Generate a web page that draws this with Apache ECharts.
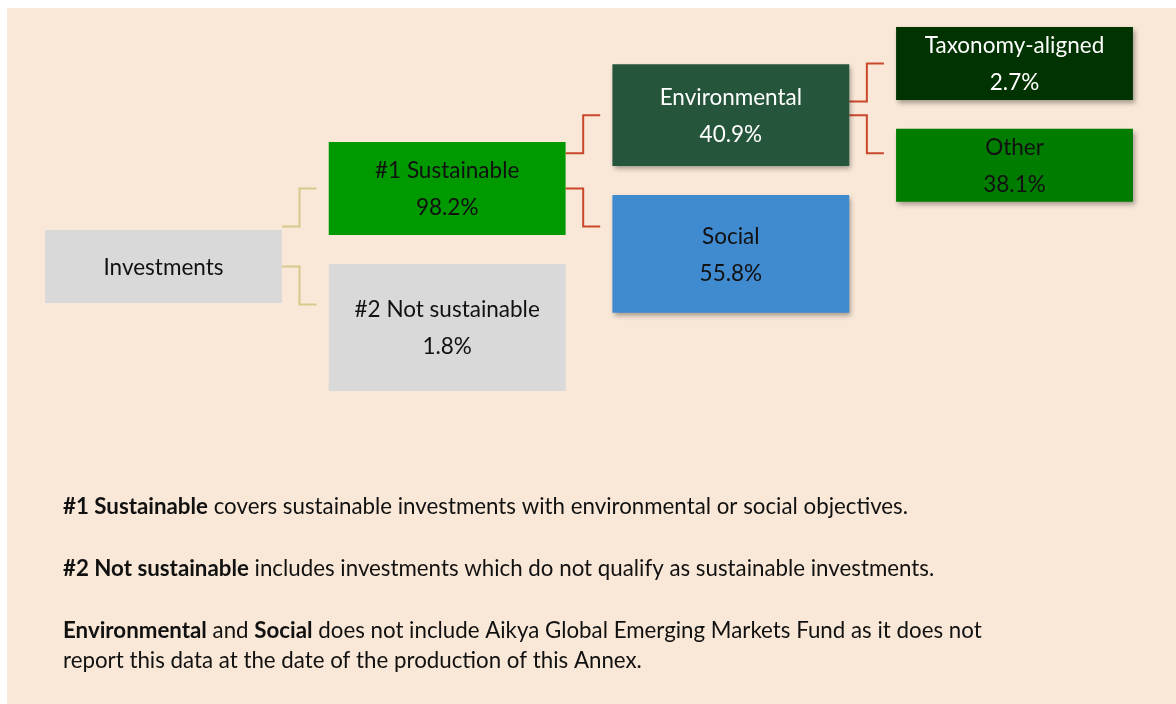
<!DOCTYPE html>
<html lang="en">
<head>
    <meta charset="UTF-8">
    <title>Asset allocation</title>
    <script src="https://cdn.jsdelivr.net/npm/echarts@6/dist/echarts.min.js"></script>
    <style>
        body { margin: 0; background: #ffffff; }
        #chart { width: 1176px; height: 704px; }
    </style>
</head>
<body>
    <div id="chart"></div>
    <script>
        // tree data
        const nodeNames = ['Investments', '#1 Sustainable', '#2 Not sustainable', 'Environmental', 'Social', 'Taxonomy-aligned', 'Other'];
        const nodeValues = [null, 98.2, 1.8, 40.9, 55.8, 2.7, 38.1];
        const nodeLevels = [0, 1, 1, 2, 2, 3, 3];
        const nodeParents = [-1, 0, 0, 1, 1, 3, 3];

        // layout (row units, one row = one connector step)
        const nodeRows = [6.80, 4.75, 8.41, 2.82, 6.47, 1.46, 4.14];
        const nodeHeights = [1.92, 2.45, 3.34, 2.68, 3.10, 1.92, 1.92];
        const boxWidth = 0.835;
        const elbowOut = 0.062;
        const elbowGap = 0.043;

        // styles
        const nodeColors = ['#d9d9d9', '#009900', '#d9d9d9', '#25553a', '#408acf', '#003300', '#007d00'];
        const nodeTextColors = ['#111', '#111', '#111', '#ffffff', '#111', '#ffffff', '#111'];
        const nodeShadow = [false, false, false, true, true, true, true];
        const FONT = 'Lato, "Noto Sans", sans-serif';
        const NOTE_SIZE = 22.3;

        const chart = echarts.init(document.getElementById('chart'));

        function renderNode(params, api) {
            const i = api.value(2);
            const c = api.coord([api.value(0), api.value(1)]);
            const s = api.size([boxWidth, nodeHeights[i]]);
            const label = nodeValues[i] == null
                ? nodeNames[i]
                : nodeNames[i] + '\n' + nodeValues[i].toFixed(1) + '%';
            return {
                type: 'rect',
                shape: { x: c[0] - s[0] / 2, y: c[1] - s[1] / 2, width: s[0], height: s[1] },
                style: nodeShadow[i]
                    ? { fill: nodeColors[i], shadowBlur: 5, shadowOffsetX: 2, shadowOffsetY: 3, shadowColor: 'rgba(0,0,0,0.35)' }
                    : { fill: nodeColors[i] },
                textContent: {
                    style: {
                        text: label,
                        fill: nodeTextColors[i],
                        fontFamily: FONT,
                        fontSize: 22.5,
                        lineHeight: 37,
                        align: 'center'
                    }
                },
                textConfig: { position: 'inside', offset: [0, 1] }
            };
        }

        function renderLink(params, api) {
            const p = api.value(0);
            const ch = api.value(1);
            const first = api.value(2) === 0;
            const pc = api.coord([nodeLevels[p], nodeRows[p]]);
            const cc = api.coord([nodeLevels[ch], nodeRows[ch]]);
            const unit = api.size([boxWidth, 1]);
            const x0 = pc[0] + unit[0] / 2;
            const x1 = x0 + api.size([elbowOut, 0])[0];
            const x2 = cc[0] - unit[0] / 2 - api.size([elbowGap, 0])[0];
            let y0, y1;
            if (first) {
                y1 = cc[1];
                y0 = y1 + unit[1];
            } else {
                y0 = pc[1];
                y1 = y0 + unit[1];
            }
            return {
                type: 'polyline',
                shape: { points: [[x0, y0], [x1, y0], [x1, y1], [x2, y1]] },
                style: { stroke: p === 0 ? '#d6c98c' : '#c9472b', lineWidth: 2, fill: null }
            };
        }

        const nodeData = nodeNames.map((n, i) => [nodeLevels[i], nodeRows[i], i]);
        const linkData = [];
        nodeParents.forEach((p, i) => {
            if (p < 0) return;
            const order = nodeParents.slice(0, i).filter(q => q === p).length;
            linkData.push([p, i, order]);
        });

        function note(y, text) {
            return {
                type: 'text', x: 63, y: y,
                style: {
                    text: text,
                    fontFamily: FONT, fontSize: NOTE_SIZE, fill: '#111', verticalAlign: 'middle',
                    rich: { b: { fontWeight: 'bold', fontFamily: FONT, fontSize: NOTE_SIZE, fill: '#111' } }
                }
            };
        }

        const option = {
            animation: false,
            grid: { left: 21.67, width: 1134.67, top: 8, height: 684 },
            xAxis: { type: 'value', min: -0.5, max: 3.5, show: false },
            yAxis: { type: 'value', min: 0, max: 18, inverse: true, show: false },
            graphic: [
                { type: 'rect', z: -10, shape: { x: 7, y: 8, width: 1169, height: 696 }, style: { fill: '#f9e8d7' } },
                note(507, '{b|#1 Sustainable} covers sustainable investments with environmental or social objectives.'),
                note(569, '{b|#2 Not sustainable} includes investments which do not qualify as sustainable investments.'),
                note(631, '{b|Environmental} and {b|Social} does not include Aikya Global Emerging Markets Fund as it does not'),
                note(661, 'report this data at the date of the production of this Annex.')
            ],
            series: [
                { type: 'custom', z: 1, renderItem: renderLink, data: linkData, silent: true },
                { type: 'custom', z: 2, renderItem: renderNode, data: nodeData, silent: true }
            ]
        };
        chart.setOption(option);
    </script>
</body>
</html>
